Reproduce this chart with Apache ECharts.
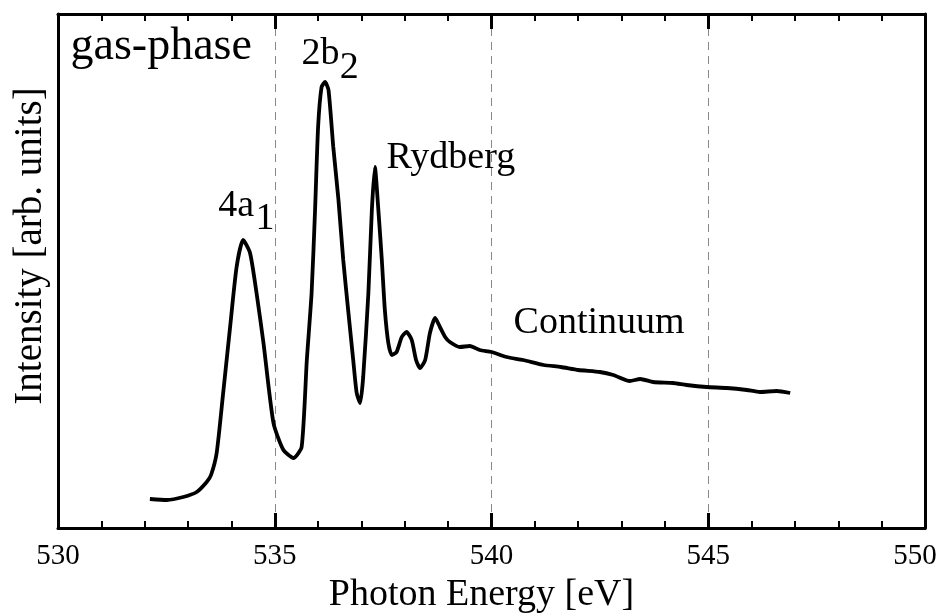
<!DOCTYPE html>
<html>
<head>
<meta charset="utf-8">
<script src="https://cdn.jsdelivr.net/npm/echarts@6/dist/echarts.min.js"></script>
<style>html,body{margin:0;padding:0;background:#fff}#c{width:943px;height:613px}</style>
</head>
<body>
<div id="c"></div>
<script>
// Photon energy (eV)
const energy = [532.12,532.51,532.89,533.20,533.43,533.53,533.66,533.81,533.97,534.12,534.27,534.43,534.58,534.74,534.97,535.20,535.43,535.62,535.74,535.85,535.93,536.00,536.08,536.16,536.24,536.35,536.47,536.58,536.70,536.81,536.89,536.97,537.04,537.16,537.24,537.31,537.39,537.47,537.54,537.62,537.70,537.81,537.93,538.04,538.16,538.26,538.35,538.47,538.58,538.70,538.81,538.93,539.04,539.27,539.50,539.73,540.00,540.35,540.73,541.20,541.60,542.00,542.50,542.81,543.19,543.43,543.73,544.19,544.50,544.96,545.43,545.89,546.19,546.58,546.89];
// Intensity (arb. units)
const intensity = [29,28,31,36,46,53,75,135,201,261,288,275,235,185,105,78,70,81,168,235,318,401,441,446,438,381,328,268,215,168,135,125,151,235,318,361,318,268,218,185,173,176,191,196,188,168,160,168,195,210,201,191,186,181,182,178,176,171,168,163,161,158,156,153,147,149,146,145,143,141,140,138,136,137,135];
const xTicks = [530,535,540,545,550];
const annotations = [
  {text:'gas-phase', x:530.30, y:481, size:46},
  {text:'4a', x:533.71, y:321, size:38},
  {text:'1', x:534.57, y:308, size:38},
  {text:'2b', x:535.63, y:473, size:38},
  {text:'2', x:536.51, y:459, size:38},
  {text:'Rydberg', x:537.59, y:369, size:38},
  {text:'Continuum', x:540.52, y:204, size:38}
];
const FONT = '"Liberation Serif", "Times New Roman", serif';
const chart = echarts.init(document.getElementById('c'));
const seriesData = energy.map((e,i)=>[e,intensity[i]]);
const lastTick = xTicks[xTicks.length-1];
function xAxisCfg(pos, labels){
  return {
    type:'value', position:pos, min:xTicks[0], max:lastTick, interval:5,
    axisLine:{show:true, onZero:false, lineStyle:{color:'#000', width:3}},
    axisTick:{show:true, inside:true, length:15, lineStyle:{color:'#000', width:3}},
    minorTick:{show:true, splitNumber:5, length:7, lineStyle:{color:'#000', width:2}},
    axisLabel:{show:labels, color:'#000', fontSize:29, fontFamily:FONT, margin:14,
      formatter:v => v===lastTick ? '{r|'+v+'}' : String(v),
      rich:{r:{fontSize:29, fontFamily:FONT, color:'#000', padding:[0,20,0,0]}}},
    splitLine:{show:labels, lineStyle:{color:'#888', width:1, type:[8,6]}},
    name: labels ? 'Photon Energy [eV]' : '',
    nameLocation:'middle', nameGap:45,
    nameTextStyle:{color:'#000', fontSize:38, fontFamily:FONT, padding:[0,20,0,0]}
  };
}
function yAxisCfg(pos, named){
  return {
    type:'value', position:pos, min:0, max:514,
    axisLine:{show:true, onZero:false, lineStyle:{color:'#000', width:3}},
    axisTick:{show:false}, axisLabel:{show:false}, splitLine:{show:false},
    name: named ? 'Intensity [arb. units]' : '',
    nameLocation:'middle', nameGap:8, nameRotate:90,
    nameTextStyle:{color:'#000', fontSize:39, fontFamily:FONT, padding:[0,0,0,50]}
  };
}
chart.setOption({
  animation:false,
  backgroundColor:'#fff',
  grid:{left:58, right:18, top:14, bottom:85, outerBoundsMode:'none', containLabel:false},
  xAxis:[xAxisCfg('bottom', true), xAxisCfg('top', false)],
  yAxis:[yAxisCfg('left', true), yAxisCfg('right', false)],
  series:[{
    type:'line', data:seriesData, showSymbol:false, smooth:0.2,
    lineStyle:{color:'#000', width:3.8}, z:5,
    markPoint:{
      symbol:'circle', symbolSize:1, itemStyle:{color:'rgba(0,0,0,0)'},
      silent:true,
      data: annotations.map(a=>({
        coord:[a.x,a.y], value:a.text,
        label:{show:true, formatter:a.text, position:[0,0], align:'left', verticalAlign:'middle',
          color:'#000', fontSize:a.size, fontFamily:FONT}
      }))
    }
  }]
});
</script>
</body>
</html>
